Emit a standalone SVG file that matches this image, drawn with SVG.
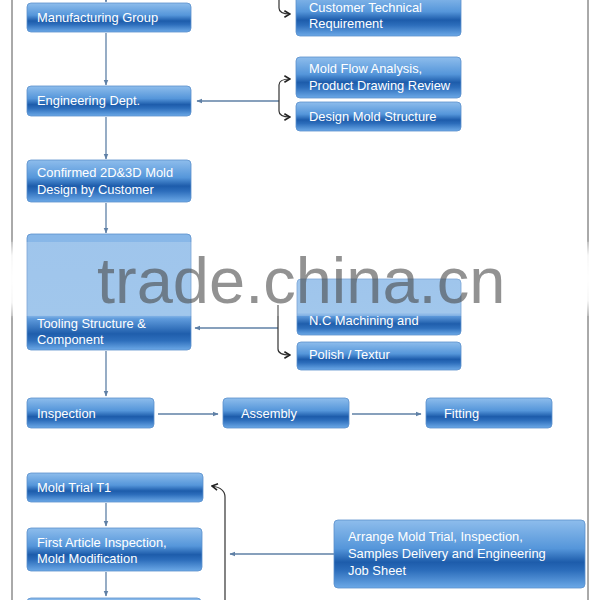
<svg xmlns="http://www.w3.org/2000/svg" width="600" height="600" viewBox="0 0 600 600">
<style>
.box{stroke:#5b8fcb;stroke-width:0.8;fill:url(#gl)}
.t{font-family:"Liberation Sans",Arial,sans-serif;font-size:12.9px;fill:#ffffff}
.c{stroke:#5f80a6;stroke-width:1.3;fill:none;marker-end:url(#ab)}
.k{stroke:#333;stroke-width:1.2;fill:none}
.kk{stroke:#333;stroke-width:1.2;fill:none;marker-end:url(#ak)}
</style>
<defs>
<linearGradient id="gl" x1="0" y1="0" x2="0" y2="1">
<stop offset="0" stop-color="#8ebdec"/>
<stop offset="0.42" stop-color="#5596da"/>
<stop offset="0.62" stop-color="#1d5cab"/>
<stop offset="0.74" stop-color="#2c6dbb"/>
<stop offset="1" stop-color="#6ca9e7"/>
</linearGradient>
<linearGradient id="gt" x1="0" y1="0" x2="0" y2="1">
<stop offset="0" stop-color="#88b7e8"/>
<stop offset="0.7" stop-color="#8ab9e8"/>
<stop offset="0.73" stop-color="#5f9bdc"/>
<stop offset="0.86" stop-color="#1f5eac"/>
<stop offset="0.92" stop-color="#2e6fbc"/>
<stop offset="1" stop-color="#6ca9e7"/>
</linearGradient>
<linearGradient id="gn" x1="0" y1="0" x2="0" y2="1">
<stop offset="0" stop-color="#88b7e8"/>
<stop offset="0.6" stop-color="#8ab9e8"/>
<stop offset="0.66" stop-color="#5f9bdc"/>
<stop offset="0.8" stop-color="#1f5eac"/>
<stop offset="0.88" stop-color="#2e6fbc"/>
<stop offset="1" stop-color="#6ca9e7"/>
</linearGradient>
<radialGradient id="wf" cx="0.5" cy="0.5" r="0.5">
<stop offset="0" stop-color="#ffffff" stop-opacity="1"/>
<stop offset="0.6" stop-color="#ffffff" stop-opacity="0.9"/>
<stop offset="1" stop-color="#ffffff" stop-opacity="0"/>
</radialGradient>
<marker id="ab" viewBox="0 0 10 10" refX="9" refY="5" markerWidth="6" markerHeight="6" markerUnits="userSpaceOnUse" orient="auto">
<path d="M0,1 L10,5 L0,9 z" fill="#5f80a6"/>
</marker>
<marker id="ak" viewBox="0 0 10 10" refX="9" refY="5" markerWidth="8" markerHeight="8" markerUnits="userSpaceOnUse" orient="auto">
<path d="M2,1 L9,5 L2,9" fill="none" stroke="#222" stroke-width="2"/>
</marker>
</defs>

<rect width="600" height="600" fill="#ffffff"/>
<g id="frame">
<line x1="12" y1="0" x2="12" y2="600" stroke="#555" stroke-width="1"/>
<line x1="588" y1="0" x2="588" y2="600" stroke="#555" stroke-width="1"/>
</g>

<g id="connectors">
<path class="c" d="M106,-2 V2"/>
<path class="c" d="M106,33 V85"/>
<path class="c" d="M106,117 V159"/>
<path class="c" d="M106,203 V233"/>
<path class="c" d="M106,351 V396"/>
<path class="c" d="M158,414 H218"/>
<path class="c" d="M352,414 H421"/>
<path class="c" d="M106,503 V526"/>
<path class="c" d="M106,572 V596"/>
<path class="c" d="M334,554 H230"/>
<path class="c" d="M279,101 H197"/>
<path class="c" d="M278,328 H195"/>
<path class="kk" d="M279,-2 V8 Q279,14 290,14"/>
<path class="kk" d="M279,101 V85 Q279,79 290,79"/>
<path class="kk" d="M279,101 V111 Q279,117 290,117"/>
<path class="k" d="M278,305 V328"/>
<path class="kk" d="M278,328 V349 Q278,355 290,355"/>
<path class="kk" d="M225,601 V497 Q225,488 212,486"/>
</g>

<g id="n-manufacturing">
<rect class="box" x="27" y="3" width="164" height="29" rx="4"/>
<text class="t" x="37" y="21.5">Manufacturing Group</text>
</g>
<g id="n-customer">
<rect class="box" x="296" y="-6" width="165" height="42" rx="4"/>
<text class="t" x="309" y="11.5">Customer Technical</text>
<text class="t" x="309" y="28">Requirement</text>
</g>
<g id="n-engineering">
<rect class="box" x="27" y="86" width="164" height="30" rx="4"/>
<text class="t" x="37" y="105">Engineering Dept.</text>
</g>
<g id="n-moldflow">
<rect class="box" x="296" y="57" width="165" height="41" rx="4"/>
<text class="t" x="309" y="73">Mold Flow Analysis,</text>
<text class="t" x="309" y="89.5">Product Drawing Review</text>
</g>
<g id="n-design">
<rect class="box" x="296" y="102" width="165" height="29" rx="4"/>
<text class="t" x="309" y="120.5">Design Mold Structure</text>
</g>
<g id="n-confirmed">
<rect class="box" x="27" y="160" width="164" height="42" rx="4"/>
<text class="t" x="37" y="176.5">Confirmed 2D&amp;3D Mold</text>
<text class="t" x="37" y="193.5">Design by Customer</text>
</g>
<g id="n-tooling">
<rect x="27" y="234" width="164" height="116" rx="4" fill="url(#gt)" stroke="#5b8fcb" stroke-width="0.8"/>
<text class="t" x="37" y="327.5">Tooling Structure &amp;</text>
<text class="t" x="37" y="343.5">Component</text>
</g>
<g id="n-nc">
<rect x="297" y="279" width="164" height="56" rx="4" fill="url(#gn)" stroke="#5b8fcb" stroke-width="0.8"/>
<text class="t" x="309" y="325">N.C Machining and</text>
</g>
<g id="n-polish">
<rect class="box" x="297" y="342" width="164" height="28" rx="4"/>
<text class="t" x="309" y="358.5">Polish / Textur</text>
</g>
<g id="n-inspection">
<rect class="box" x="27" y="398" width="127" height="30" rx="4"/>
<text class="t" x="37" y="417.5">Inspection</text>
</g>
<g id="n-assembly">
<rect class="box" x="223" y="398" width="126" height="30" rx="4"/>
<text class="t" x="241" y="417.5">Assembly</text>
</g>
<g id="n-fitting">
<rect class="box" x="426" y="398" width="126" height="30" rx="4"/>
<text class="t" x="444" y="417.5">Fitting</text>
</g>
<g id="n-moldtrial">
<rect class="box" x="27" y="473" width="176" height="29" rx="4"/>
<text class="t" x="37" y="491.5">Mold Trial T1</text>
</g>
<g id="n-firstarticle">
<rect class="box" x="27" y="528" width="175" height="43" rx="4"/>
<text class="t" x="37" y="546.5">First Article Inspection,</text>
<text class="t" x="37" y="563">Mold Modification</text>
</g>
<g id="n-next">
<rect class="box" x="27" y="598" width="174" height="30" rx="4"/>
</g>
<g id="n-arrange">
<rect class="box" x="334" y="520" width="251" height="68" rx="4"/>
<text class="t" x="348" y="540.5">Arrange Mold Trial, Inspection,</text>
<text class="t" x="348" y="557.5">Samples Delivery and Engineering</text>
<text class="t" x="348" y="574.5">Job Sheet</text>
</g>

<g id="watermark">
<rect x="0" y="242" width="600" height="74" fill="#ffffff" opacity="0.2"/>
<ellipse cx="13" cy="279" rx="9" ry="40" fill="url(#wf)"/>
<ellipse cx="588" cy="278" rx="9" ry="38" fill="url(#wf)"/>
<text x="97" y="302.5" font-family="Liberation Sans,Arial,sans-serif" font-size="65" fill="#4a4a4a" fill-opacity="0.6">trade.china.cn</text>
</g>
</svg>
